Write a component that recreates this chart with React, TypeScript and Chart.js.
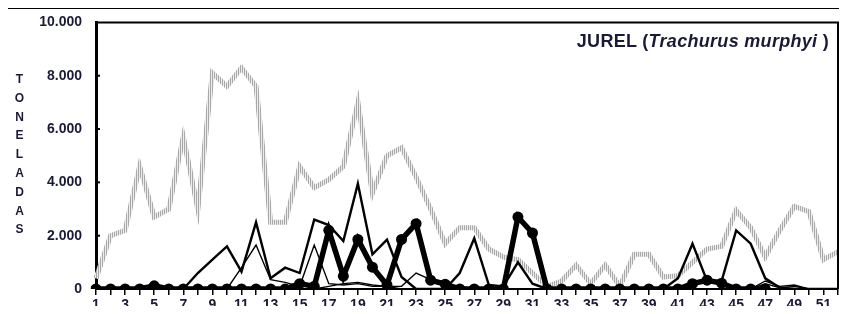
import React, { useEffect, useRef } from 'react';
import { Chart, registerables } from 'chart.js';

Chart.register(...registerables);

// Weeks (categories)
const weeks = [
  1, 2, 3, 4, 5, 6, 7, 8, 9, 10, 11, 12, 13, 14, 15, 16, 17, 18, 19, 20, 21, 22, 23, 24, 25, 26,
  27, 28, 29, 30, 31, 32, 33, 34, 35, 36, 37, 38, 39, 40, 41, 42, 43, 44, 45, 46, 47, 48, 49, 50, 51, 52,
];

// Light grey hatched series
const greySeries = [
  400, 2000, 2200, 4600, 2700, 3000, 5700, 3000, 8100, 7600, 8300, 7600, 2500, 2500, 4600, 3800,
  4100, 4600, 7000, 3600, 5000, 5300, 4200, 3000, 1700, 2300, 2300, 1500, 1200, 1100, 600, 100,
  300, 900, 200, 900, 100, 1300, 1300, 450, 500, 1000, 1500, 1600, 2950, 2300, 1200, 2200, 3100,
  2900, 1100, 1400,
];

// Medium black line
const mediumSeries = [
  0, 0, 0, 0, 0, 0, 0, 600, 1100, 1600, 650, 2500, 400, 800, 600, 2600, 2400, 1800, 3950, 1300,
  1850, 450, 0, 0, 0, 600, 1900, 150, 100, 1000, 200, 0, 0, 0, 0, 0, 0, 0, 0, 0, 400, 1700, 300,
  300, 2200, 1700, 400, 50, 0, 0, 0, 0,
];

// Thin black line
const thinSeries = [
  0, 0, 0, 0, 0, 0, 0, 0, 0, 0, 800, 1650, 350, 250, 100, 1650, 200, 150, 200, 100, 100, 0, 0, 0,
  0, 0, 0, 0, 0, 0, 0, 0, 0, 0, 0, 0, 0, 0, 0, 0, 0, 0, 0, 0, 0, 0, 300, 100, 150, 0, 0, 0,
];

// Low thin black line
const lowSeries = [
  0, 0, 0, 0, 0, 0, 0, 0, 0, 0, 0, 0, 0, 0, 0, 0, 100, 200, 250, 150, 100, 100, 600, 350, 200, 100,
  0, 0, 0, 0, 0, 0, 0, 0, 0, 0, 0, 0, 0, 0, 0, 0, 0, 0, 0, 0, 200, 50, 100, 0, 0, 0,
];

// Thick black line with round markers
const dotSeries = [
  0, 0, 0, 0, 120, 0, 0, 0, 0, 0, 0, 0, 0, 0, 200, 100, 2200, 480, 1860, 820, 150, 1860, 2450, 330,
  180, 0, 0, 0, 0, 2700, 2100, 0, 0, 0, 0, 0, 0, 0, 0, 0, 0, 200, 330, 220, 0, 0, 0, null, null,
  null, null, null,
];

const yTicks = [0, 2000, 4000, 6000, 8000, 10000];
const yAxisLetters = ['T', 'O', 'N', 'E', 'L', 'A', 'D', 'A', 'S'];

const TEXT_COLOR = '#1a1a38';

function fmt(v: number) {
  return String(v).replace(/\B(?=(\d{3})+(?!\d))/g, '.');
}

export default function App() {
  const canvasRef = useRef<HTMLCanvasElement | null>(null);

  useEffect(() => {
    document.documentElement.style.overflow = 'hidden';
    document.body.style.overflow = 'hidden';
    const canvas = canvasRef.current;
    if (!canvas) return;

    const pc = document.createElement('canvas');
    pc.width = 2;
    pc.height = 2;
    const pctx = pc.getContext('2d')!;
    pctx.fillStyle = '#a8a8a8';
    pctx.fillRect(0, 0, 1, 2);
    pctx.fillStyle = '#ececec';
    pctx.fillRect(1, 0, 1, 2);
    const ctx = canvas.getContext('2d')!;
    const pattern = ctx.createPattern(pc, 'repeat') || '#c0c0c0';

    const framePlugin = {
      id: 'framePlugin',
      afterDraw(chart: any) {
        const { ctx: c, chartArea } = chart;
        const { left, top, right, bottom } = chartArea;
        c.save();
        c.strokeStyle = '#000';
        c.lineWidth = 2;
        c.beginPath();
        c.moveTo(left, top);
        c.lineTo(right, top);
        c.lineTo(right, bottom);
        c.stroke();
        // inward y ticks
        const ys = chart.scales.y;
        c.lineWidth = 2;
        yTicks.forEach((t) => {
          if (t === 0 || t === 10000) return;
          const py = ys.getPixelForValue(t);
          c.beginPath();
          c.moveTo(left, py);
          c.lineTo(left + 4, py);
          c.stroke();
        });
        c.restore();
      },
    };

    const chart = new Chart(canvas, {
      type: 'line',
      data: {
        labels: weeks.map(String),
        datasets: [
          {
            label: 'dots',
            data: dotSeries,
            borderColor: '#000',
            backgroundColor: '#000',
            borderWidth: 5.5,
            pointRadius: 5.5,
            pointBackgroundColor: '#000',
            pointBorderColor: '#000',
            pointBorderWidth: 0,
            tension: 0,
            order: 0,
          },
          {
            label: 'medium',
            data: mediumSeries,
            borderColor: '#000',
            borderWidth: 2.4,
            pointRadius: 0,
            tension: 0,
            order: 1,
          },
          {
            label: 'thin',
            data: thinSeries,
            borderColor: '#000',
            borderWidth: 1.4,
            pointRadius: 0,
            tension: 0,
            order: 2,
          },
          {
            label: 'low',
            data: lowSeries,
            borderColor: '#000',
            borderWidth: 1.4,
            pointRadius: 0,
            tension: 0,
            order: 3,
          },
          {
            label: 'grey',
            data: greySeries,
            borderColor: pattern as any,
            borderWidth: 5,
            pointRadius: 0,
            tension: 0,
            order: 10,
          },
        ],
      },
      options: {
        animation: false,
        responsive: false,
        maintainAspectRatio: false,
        layout: { padding: { left: 0, top: 20, right: 9, bottom: 0 } },
        plugins: { legend: { display: false }, tooltip: { enabled: false } },
        scales: {
          x: {
            type: 'category',
            offset: false,
            afterFit: (s: any) => {
              s.height = 25;
            },
            border: { display: true, color: '#000', width: 2 },
            grid: {
              drawOnChartArea: false,
              drawTicks: true,
              tickLength: 6,
              color: '#000',
              lineWidth: 1.5,
            },
            ticks: {
              autoSkip: false,
              maxRotation: 0,
              padding: 2,
              color: TEXT_COLOR,
              font: { family: 'Liberation Sans, Arial', size: 14, weight: 'bold' },
              callback: (_v: any, i: number) => (weeks[i] % 2 === 1 ? String(weeks[i]) : ''),
            },
          },
          y: {
            min: 0,
            max: 10000,
            afterFit: (s: any) => {
              s.width = 96;
            },
            afterBuildTicks: (s: any) => {
              s.ticks = yTicks.map((v) => ({ value: v }));
            },
            border: { display: true, color: '#000', width: 3 },
            grid: { drawOnChartArea: false, drawTicks: false },
            ticks: {
              padding: 14,
              color: TEXT_COLOR,
              font: { family: 'Liberation Sans, Arial', size: 14, weight: 'bold' },
              callback: (v: any) => fmt(Number(v)),
            },
          },
        },
      },
      plugins: [framePlugin],
    } as any);

    return () => chart.destroy();
  }, []);

  return (
    <div
      style={{
        position: 'relative',
        width: 847,
        height: 314,
        margin: -8,
        overflow: 'hidden',
        background: '#fff',
      }}
    >
      <div
        style={{
          position: 'absolute',
          left: 6,
          top: 7,
          width: 900,
          height: 400,
          border: '2px solid #000',
        }}
      />
      <canvas
        ref={canvasRef}
        width={847}
        height={314}
        style={{ position: 'absolute', left: 0, top: 0, width: 847, height: 314 }}
      />
      <div
        style={{
          position: 'absolute',
          right: 18,
          top: 31,
          fontFamily: 'Liberation Sans, Arial, sans-serif',
          fontWeight: 'bold',
          fontSize: 18,
          lineHeight: '21px',
          letterSpacing: '0.3px',
          color: TEXT_COLOR,
          whiteSpace: 'nowrap',
        }}
      >
        JUREL (<i>Trachurus murphyi</i> )
      </div>
      <div
        style={{
          position: 'absolute',
          left: 10,
          top: 70,
          width: 19,
          fontFamily: 'Liberation Sans, Arial, sans-serif',
          fontWeight: 'bold',
          fontSize: 12,
          lineHeight: '18.8px',
          color: TEXT_COLOR,
          textAlign: 'center',
        }}
      >
        {yAxisLetters.map((l, i) => (
          <div key={i}>{l}</div>
        ))}
      </div>
    </div>
  );
}
